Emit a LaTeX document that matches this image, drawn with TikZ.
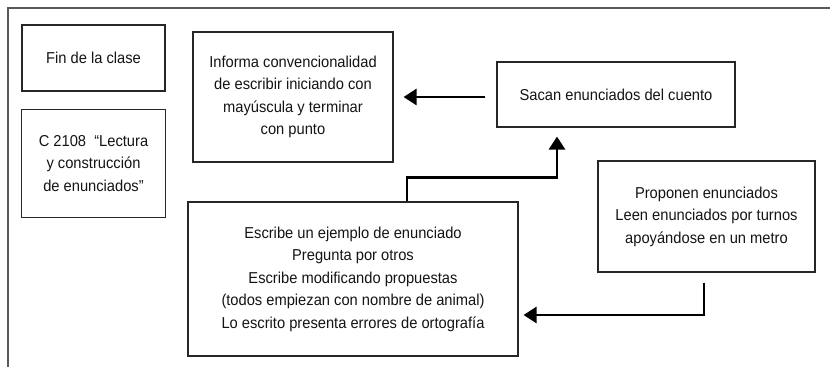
\documentclass[tikz,border=0pt]{standalone}
\usepackage{fontspec}
\setmainfont{Liberation Sans}[FakeStretch=0.93]
\usetikzlibrary{arrows.meta,positioning}

\begin{document}
\begin{tikzpicture}[x=1pt,y=1pt,
  >={Triangle[length=13pt,width=16pt]},
  every node/.style={font=\fontsize{15.8}{22.5}\selectfont,align=center,
    text=black!92},
  paso/.style={draw=black!85,line width=1.1pt,inner sep=0pt},
  flow/.style={->,line width=2.7pt,black},
  marco/.style={draw=black!65,line width=1.6pt}]
  \useasboundingbox (0,0) rectangle (830,-367);
  \draw[marco] (8,-367) -- (8,-8) -- (830,-8);
  \node[paso,minimum width=143pt,minimum height=66pt] (fin) at (93.5,-58)
    {Fin de la clase};
  \node[paso,minimum width=144pt,minimum height=108pt,below=17pt of fin]
    (curso) {C 2108 ~``Lectura\\y construcción\\de enunciados''};
  \node[paso,minimum width=200pt,minimum height=130pt] (informa) at (293,-97)
    {Informa convencionalidad\\de escribir iniciando con\\
    mayúscula y terminar\\con punto};
  \node[paso,minimum width=238pt,minimum height=65pt] (sacan) at (616,-94.5)
    {Sacan enunciados del cuento};
  \node[paso,minimum width=217pt,minimum height=111pt] (proponen)
    at (706.5,-216.5)
    {Proponen enunciados\\Leen enunciados por turnos\\
    apoyándose en un metro};
  \node[paso,minimum width=330pt,minimum height=154pt] (escribe) at (353,-279)
    {Escribe un ejemplo de enunciado\\Pregunta por otros\\
    Escribe modificando propuestas\\(todos empiezan con nombre de animal)\\
    Lo escrito presenta errores de ortografía};

  \draw[flow,shorten <=11pt,shorten >=10pt] (sacan.west |- informa.east)
    -- (informa.east);
  \draw[flow] ([xshift=54pt]escribe.north) -- ++(0,24)
    -| ([xshift=-59pt,yshift=-9pt]sacan.south);
  \draw[flow] ([yshift=-10pt,xshift=-2.5pt]proponen.south)
    |- ([xshift=5pt,yshift=-36pt]escribe.east);
\end{tikzpicture}
\end{document}
